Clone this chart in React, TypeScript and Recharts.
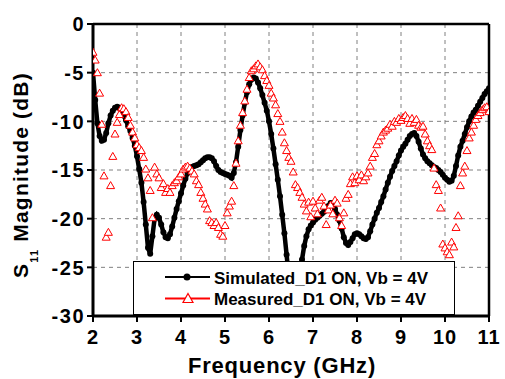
import React from 'react';
import { ComposedChart, Line, XAxis, YAxis, CartesianGrid, ReferenceLine, Legend } from 'recharts';

const FONT = '"Liberation Sans", Arial, sans-serif';

const xTicks = [2, 3, 4, 5, 6, 7, 8, 9, 10, 11];
const yTicks = [0, -5, -10, -15, -20, -25, -30];
const seriesNames = ['Simulated_D1 ON, Vb = 4V', 'Measured_D1 ON, Vb = 4V'];
const xTitle = 'Frequency (GHz)';

// sweep 2.00 .. 11.00 GHz, 0.05 GHz step (one row per GHz)
const simulatedDb = [
  -5.0, -7.8, -10.2, -11.5, -12.0, -11.9, -11.2, -10.2, -9.4, -8.9, -8.6, -8.5, -8.6, -8.9, -9.4, -9.9, -10.5, -11.0, -11.7, -12.5,
  -13.6, -14.9, -16.3, -18.3, -20.6, -23.0, -23.6, -21.8, -20.0, -19.6, -19.9, -20.6, -21.4, -21.9, -22.0, -21.6, -20.8, -19.9, -19.0, -18.2,
  -17.4, -16.6, -15.9, -15.3, -14.9, -14.7, -14.6, -14.5, -14.4, -14.2, -14.0, -13.8, -13.7, -13.7, -13.8, -14.1, -14.6, -15.0, -15.2, -15.3,
  -15.4, -15.5, -15.6, -15.8, -15.3, -14.2, -12.6, -10.9, -9.4, -8.1, -7.0, -6.2, -5.7, -5.5, -5.6, -6.0, -6.6, -7.3, -8.1, -8.9,
  -10.0, -11.3, -12.8, -14.4, -16.0, -17.7, -19.6, -21.5, -23.7, -26.0, -28.0, -29.4, -29.9, -29.0, -26.5, -24.2, -22.8, -21.8, -21.1, -20.7,
  -20.4, -20.1, -19.9, -19.7, -19.5, -19.3, -19.0, -18.7, -18.4, -18.5, -19.0, -19.6, -20.2, -21.0, -21.9, -22.5, -22.7, -22.4, -22.0, -21.6,
  -21.5, -21.6, -21.8, -22.0, -22.1, -21.9, -21.3, -20.6, -20.0, -19.4, -18.9, -18.3, -17.7, -17.0, -16.3, -15.7, -15.1, -14.6, -14.1, -13.5,
  -13.0, -12.6, -12.3, -11.9, -11.5, -11.3, -11.2, -11.5, -12.1, -12.8, -13.4, -13.8, -14.1, -14.3, -14.5, -14.7, -14.8, -15.0, -15.2, -15.5,
  -15.8, -16.0, -16.2, -16.1, -15.6, -14.6, -13.5, -12.6, -12.0, -11.3, -10.6, -10.0, -9.5, -9.1, -8.8, -8.4, -8.0, -7.6, -7.2, -6.9,
  -6.6,
];

const measuredDb = [
  -2.8, -3.6, -4.9, -7.0, -10.2, -15.5, -21.8, -21.3, -16.5, -13.5, -11.2, -10.0, -9.2, -8.5, -8.6, -8.9, -9.5, -10.3, -11.0, -11.6,
  -12.3, -12.6, -12.9, -13.6, -14.8, -15.7, -17.0, -19.8, -14.6, -15.3, -15.7, -16.7, -16.3, -17.2, -16.8, -17.2, -16.5, -16.2, -16.0, -15.6,
  -15.3, -14.8, -14.6, -14.5, -14.7, -15.0, -15.3, -16.0, -16.4, -17.2, -17.8, -18.4, -18.9, -20.1, -20.3, -20.6, -20.3, -20.8, -21.5, -21.7,
  -20.6, -19.3, -18.6, -18.1, -16.5, -14.2, -11.9, -10.3, -9.0, -7.8, -6.6, -5.4, -4.7, -4.5, -4.2, -4.0, -4.3, -4.6, -5.2, -5.7,
  -6.2, -7.0, -7.5, -8.2, -9.1, -9.9, -11.0, -12.1, -12.9, -13.6, -14.0, -15.1, -16.4, -16.7, -17.2, -17.7, -18.4, -19.1, -18.2, -19.7,
  -18.1, -18.8, -19.4, -18.0, -17.7, -18.6, -20.5, -19.0, -18.5, -19.4, -18.0, -18.3, -19.8, -20.6, -19.3, -17.8, -17.4, -16.3, -15.6, -16.2,
  -15.5, -15.9, -15.4, -16.0, -15.6, -15.2, -14.5, -13.6, -13.2, -12.3, -11.9, -11.4, -11.0, -10.8, -10.6, -10.2, -10.4, -9.9, -10.0, -9.6,
  -9.8, -9.5, -9.3, -9.6, -10.1, -9.6, -10.0, -9.7, -10.3, -10.5, -10.4, -11.2, -11.9, -12.4, -12.8, -14.7, -16.4, -17.0, -18.8, -22.5,
  -22.9, -23.3, -23.6, -22.3, -22.8, -20.8, -19.6, -16.5, -15.2, -14.5, -12.9, -11.6, -11.0, -10.3, -9.7, -9.3, -9.0, -8.7, -8.5, -8.4,
  -8.9,
];

const rows = simulatedDb.map((v, i) => ({
  f: Math.round((2 + i * 0.05) * 100) / 100,
  sim: v,
  meas: measuredDb[i],
}));

const triPath = (cx: number, cy: number, w: number, h: number) =>
  `M${cx},${cy - h / 2} L${cx + w / 2},${cy + h / 2} L${cx - w / 2},${cy + h / 2} Z`;

const TriangleDot = (props: any) => {
  const { cx, cy, index } = props;
  if (cx == null || cy == null) return <g key={`t${index}`} />;
  return (
    <path key={`t${index}`} d={triPath(cx, cy + 0.5, 8, 7)} fill="#fff" stroke="#ff0000" strokeWidth={1} />
  );
};

const CircleDot = (props: any) => {
  const { cx, cy, index } = props;
  if (cx == null || cy == null) return <g key={`c${index}`} />;
  return <circle key={`c${index}`} cx={cx} cy={cy} r={3} fill="#000" />;
};

const YTick = (props: any) => {
  const { x, y, payload } = props;
  return (
    <text x={x} y={y} dy="0.36em" textAnchor="end" fontFamily={FONT} fontWeight="bold" fontSize={20} fill="#000" letterSpacing={1.5}>
      {payload.value}
    </text>
  );
};

const XTick = (props: any) => {
  const { x, y, payload } = props;
  return (
    <text x={x} y={y} dy="0.71em" textAnchor="middle" fontFamily={FONT} fontWeight="bold" fontSize={20} fill="#000" letterSpacing={1}>
      {payload.value}
    </text>
  );
};

const YTitle = () => (
  <text
    transform="translate(28,278) rotate(-90)"
    x={0}
    y={0}
    textAnchor="start"
    fontFamily={FONT}
    fontWeight="bold"
    fontSize={21}
    fill="#000"
    letterSpacing={1.2}
  >
    S
    <tspan fontSize={11} dy={10}>11</tspan>
    <tspan dy={-10}> Magnitude (dB)</tspan>
  </text>
);

const XTitle = () => (
  <text x={282} y={373} textAnchor="middle" fontFamily={FONT} fontWeight="bold" fontSize={22} fill="#000" letterSpacing={0.8}>
    {xTitle}
  </text>
);

const LegendBox = () => (
  <svg width={322} height={54} style={{ display: 'block' }}>
    <rect x={0.5} y={0.5} width={321} height={53} fill="#fff" stroke="#000" strokeWidth={1} />
    <line x1={32} x2={77} y1={16} y2={16} stroke="#000" strokeWidth={2} />
    <circle cx={54} cy={16} r={3.5} fill="#000" />
    <text x={81} y={23} fontFamily={FONT} fontWeight="bold" fontSize={17} fill="#000">
      {seriesNames[0]}
    </text>
    <line x1={32} x2={77} y1={37.5} y2={37.5} stroke="#ff0000" strokeWidth={2} />
    <path d={triPath(55, 37, 10, 9)} fill="#fff" stroke="#ff0000" strokeWidth={1.2} />
    <text x={81} y={44} fontFamily={FONT} fontWeight="bold" fontSize={17} fill="#000">
      {seriesNames[1]}
    </text>
  </svg>
);

export default function App() {
  return (
    <div style={{ position: 'absolute', left: 0, top: 0, width: 505, height: 379, background: '#fff' }}>
      <ComposedChart width={505} height={379} data={rows} margin={{ top: 24, right: 16, left: 0, bottom: 0 }}>
        <CartesianGrid stroke="#808080" strokeDasharray="4 4" strokeWidth={1} />
        <XAxis
          dataKey="f"
          type="number"
          domain={[2, 11]}
          ticks={xTicks}
          allowDataOverflow
          height={63}
          tickSize={6}
          tickMargin={8}
          tick={<XTick />}
          axisLine={{ stroke: '#000', strokeWidth: 3 }}
          tickLine={{ stroke: '#000', strokeWidth: 2 }}
          label={{ content: () => <XTitle /> }}
        />
        <YAxis
          type="number"
          domain={[-30, 0]}
          ticks={yTicks}
          allowDataOverflow
          width={93}
          tickSize={6}
          tickMargin={2}
          tick={<YTick />}
          axisLine={{ stroke: '#000', strokeWidth: 3 }}
          tickLine={{ stroke: '#000', strokeWidth: 2 }}
          label={{ content: () => <YTitle /> }}
        />
        <ReferenceLine y={0} stroke="#000" strokeWidth={2.5} />
        <ReferenceLine x={11} stroke="#000" strokeWidth={2.5} />
        <Line
          dataKey="sim"
          name={seriesNames[0]}
          stroke="#000"
          strokeWidth={4.5}
          dot={<CircleDot />}
          activeDot={false}
          isAnimationActive={false}
        />
        <Line
          dataKey="meas"
          name={seriesNames[1]}
          stroke="none"
          strokeWidth={0}
          dot={<TriangleDot />}
          activeDot={false}
          isAnimationActive={false}
        />
        <Legend
          layout="vertical"
          align="center"
          verticalAlign="middle"
          content={() => <LegendBox />}
          wrapperStyle={{ position: 'absolute', left: 133, top: 261, width: 322, height: 54, margin: 0, padding: 0 }}
        />
      </ComposedChart>
    </div>
  );
}
